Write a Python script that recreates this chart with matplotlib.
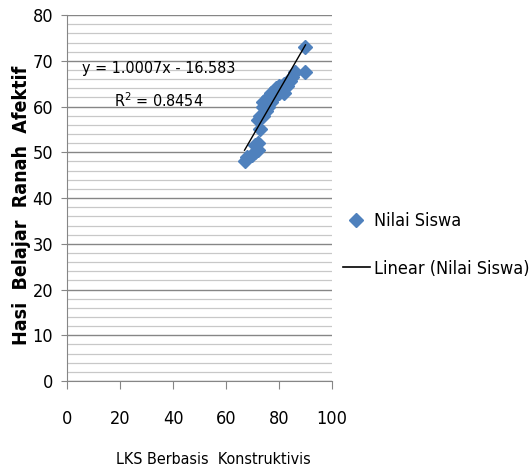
import matplotlib
matplotlib.use("Agg")
import matplotlib.pyplot as plt
import numpy as np
from matplotlib.lines import Line2D

plt.rcParams['font.family'] = ['DejaVu Sans Condensed', 'DejaVu Sans']
plt.rcParams['font.stretch'] = 'condensed'

x_vals = [67, 68, 70, 71, 71, 72, 72, 72, 73, 73, 74, 74, 74, 75, 75, 76, 76,
          77, 77, 78, 78, 79, 79, 80, 80, 81, 82, 82, 83, 84, 85, 86, 90, 90]
y_vals = [48, 49, 49.5, 50, 51.5, 50.5, 52, 57, 55, 58, 58, 60, 61, 59, 61.5, 60, 62,
          61, 63, 62, 63, 62.5, 64, 63, 64.5, 64, 63, 65, 64.5, 65.5, 66.5, 67.5, 73, 67.5]
slope = 1.0007
intercept = -16.583
r2 = 0.8454
x_ticks = [0, 20, 40, 60, 80, 100]
y_ticks = [0, 10, 20, 30, 40, 50, 60, 70, 80]

fig = plt.figure(figsize=(5.32, 4.71), dpi=100)
ax = fig.add_axes([0.126, 0.191, 0.498, 0.777])

ax.set_xlim(0, 100)
ax.set_ylim(0, 80)
ax.set_xticks(x_ticks)
ax.set_yticks(y_ticks)
ax.set_yticks(np.arange(0, 81, 2), minor=True)
ax.yaxis.grid(True, which='major', color='#868686', linewidth=1.0)
ax.yaxis.grid(True, which='minor', color='#c8c8c8', linewidth=0.9)
ax.set_axisbelow(True)
ax.tick_params(axis='y', which='minor', length=0)
ax.tick_params(axis='y', which='major', direction='out', length=4, color='#868686',
               labelsize=13, pad=6)
ax.tick_params(axis='x', which='major', direction='out', length=5.5, color='#868686',
               labelsize=13, pad=15)
for s in ['top', 'right']:
    ax.spines[s].set_visible(False)
for s in ['left', 'bottom']:
    ax.spines[s].set_color('#868686')

ax.plot(x_vals, y_vals, linestyle='none', marker='D', markersize=7,
        color='#4F81BD', markeredgecolor='#4F81BD')
xs = np.array([min(x_vals), max(x_vals)])
ax.plot(xs, slope * xs + intercept, color='black', linewidth=1.0)

ax.text(34.7, 68.4, 'y = 1.0007x - 16.583', fontsize=11.5, ha='center', va='center')
ax.text(34.7, 61.4, 'R$^2$ = 0.8454', fontsize=11.5, ha='center', va='center')

ax.set_xlabel('LKS Berbasis  Konstruktivis', fontsize=11.5)
ax.xaxis.set_label_coords(0.551, -0.195)
ax.set_ylabel('Hasi  Belajar  Ranah  Afektif', fontsize=14, fontweight='bold')
ax.yaxis.set_label_coords(-0.135, 0.481)

handles = [Line2D([], [], linestyle='none', marker='D', markersize=7, color='#4F81BD'),
           Line2D([], [], color='black', linewidth=1.2)]
fig.legend(handles, ['Nilai Siswa', 'Linear (Nilai Siswa)'], loc='center left',
           bbox_to_anchor=(0.617, 0.48), frameon=False, fontsize=13,
           labelspacing=1.65, handlelength=1.5, handletextpad=0.25, borderpad=0.3)

fig.savefig('out.png', dpi=100)
